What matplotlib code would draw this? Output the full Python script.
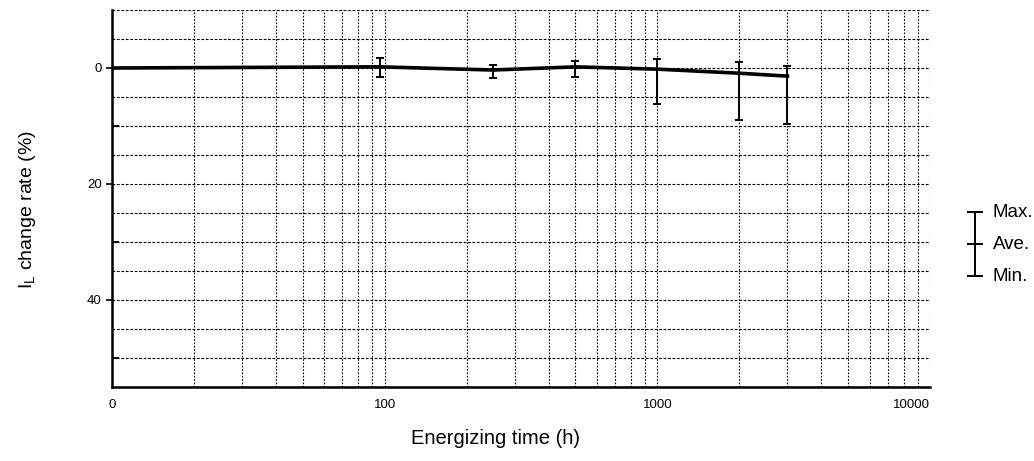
import matplotlib
matplotlib.use("Agg")
import matplotlib.pyplot as plt
from matplotlib.ticker import FixedLocator, NullFormatter

plt.rcParams['font.family'] = ['Liberation Sans', 'DejaVu Sans']

# energizing time (h) and I_L change rate (%)
hours = [10, 96, 250, 500, 1000, 2000, 3000]
ave = [0.0, 0.2, -0.35, 0.2, -0.2, -0.9, -1.4]
vmax = [0.0, 1.8, 0.5, 1.2, 1.55, 1.0, 0.4]
vmin = [0.0, -1.5, -1.8, -1.5, -6.2, -9.0, -9.6]

y_ticks = [0, -20, -40]
y_tick_labels = ['0', '20', '40']
x_ticks = [10, 100, 1000, 10000]
x_tick_labels = ['0', '100', '1000', '10000']

fig = plt.figure(figsize=(10.34, 4.61), dpi=100)
ax = fig.add_axes([112 / 1034, 1 - 387 / 461, 818 / 1034, 377 / 461])

ax.set_xscale('log')
ax.set_xlim(10, 10000)
ax.set_ylim(-55, 10)

# grid: minor decades vertically, every 5 % horizontally
grid_x = [m * 10 ** d for d in (1, 2, 3) for m in range(1, 10)] + [10000]
grid_y = list(range(-55, 11, 5))
for gx in grid_x:
    ax.axvline(gx, color='black', lw=0.8, ls=(0, (1.5, 1.5)), zorder=1)
for gy in grid_y:
    ax.axhline(gy, color='black', lw=0.8, ls=(0, (2.5, 1.5)), zorder=1)

# average line
ax.plot(hours, ave, color='black', lw=2.6, zorder=3)

# max / min bars (skip the starting point)
lo = [a - m for a, m in zip(ave, vmin)]
hi = [m - a for a, m in zip(ave, vmax)]
ax.errorbar(hours[1:], ave[1:], yerr=[lo[1:], hi[1:]], fmt='none',
            ecolor='black', elinewidth=1.4, capsize=3, capthick=1.4, zorder=4)

ax.spines['top'].set_visible(False)
ax.spines['right'].set_visible(False)
ax.spines['left'].set_linewidth(1.8)
ax.spines['bottom'].set_linewidth(1.8)

ax.xaxis.set_major_locator(FixedLocator(x_ticks))
ax.set_xticklabels(x_tick_labels)
ax.xaxis.set_minor_formatter(NullFormatter())
ax.tick_params(axis='x', which='both', length=0, labelsize=9.5, pad=9)
for lab in ax.get_xticklabels():
    if lab.get_text() == '10000':
        lab.set_horizontalalignment('right')

ax.set_yticks(y_ticks)
ax.set_yticklabels(y_tick_labels)
ax.yaxis.set_minor_locator(FixedLocator([-10, -30, -50]))
ax.tick_params(axis='y', which='major', direction='out', length=4, width=1.2,
               labelsize=9.5)
ax.tick_params(axis='y', which='minor', direction='in', length=5, width=1.5)

ax.set_xlabel('Energizing time (h)', fontsize=14.5)
ax.xaxis.set_label_coords(0.469, -0.112)
ax.set_ylabel(r'I$_\mathregular{L}$ change rate (%)', fontsize=14)
ax.yaxis.set_label_coords(-0.09, 0.47)

# legend key on the right
lg = fig.add_axes([960 / 1034, 1 - 284 / 461, 30 / 1034, 80 / 461])
lg.set_xlim(-1, 1)
lg.set_ylim(-1.25, 1.25)
lg.axis('off')
lg.errorbar([0], [0], yerr=[[1], [1]], fmt='_', color='black', ms=12,
            mew=1.4, elinewidth=1.4, capsize=6, capthick=1.4)
for yy, txt in [(1, 'Max.'), (0, 'Ave.'), (-1, 'Min.')]:
    lg.text(1.2, yy, txt, fontsize=13.5, va='center', ha='left', clip_on=False)

fig.savefig('out.png', dpi=100)
